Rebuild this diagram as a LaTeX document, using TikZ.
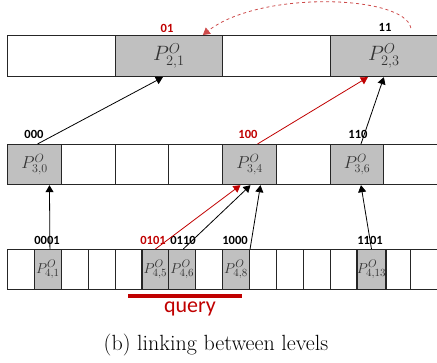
\documentclass[tikz,border=0pt]{standalone}
\usepackage{fontspec}
\newfontfamily\lblfont{Carlito}
\usepackage{tikz}
\usetikzlibrary{arrows.meta}
\usetikzlibrary{positioning}
\definecolor{cellgray}{RGB}{192,192,192}
\definecolor{darkred}{RGB}{192,0,0}
\definecolor{dashred}{RGB}{205,75,75}

\begin{document}
\begin{tikzpicture}[x=1pt,y=-1pt,>={Triangle[length=7pt,width=8pt]}]
\useasboundingbox (0,0) rectangle (437,362);
\tikzstyle{cell}=[draw=black!85,line width=1.2pt,anchor=north west,inner sep=0pt,text=black!80]
\tikzstyle{tcell}=[cell,minimum width=107.5pt,minimum height=41pt,font=\fontsize{22}{24}\selectfont]
\tikzstyle{mcell}=[cell,minimum width=53.75pt,minimum height=40pt,font=\fontsize{18.5}{20}\selectfont]
\tikzstyle{bcell}=[cell,minimum width=26.875pt,minimum height=40pt,font=\fontsize{15.5}{17}\selectfont]
\tikzstyle{bits}=[anchor=base,inner sep=0pt,font={\lblfont\bfseries\fontsize{12.5}{14}\selectfont}]
\tikzstyle{link}=[->,line width=0.8pt]

% level 2
\foreach \i in {0,...,3}
	\node[tcell] (t\i) at (7+107.5*\i,35) {};
\foreach \i in {1,3}
	\node[tcell,fill=cellgray] (p2\i) at (t\i.north west) {$P^{O}_{2,\i}$};
% level 3
\foreach \i in {0,...,7}
	\node[mcell] (m\i) at (7+53.75*\i,144) {};
\foreach \i in {0,4,6}
	\node[mcell,fill=cellgray] (p3\i) at (m\i.north west) {$P^{O}_{3,\i}$};
% level 4
\foreach \i in {0,...,15}
	\node[bcell] (b\i) at (7+26.875*\i,249) {};
\foreach \i in {1,5,6,8,13}
	\node[bcell,fill=cellgray] (p4\i) at (b\i.north west) {$P^{O}_{4,\i}$};

% prefixes
\node[bits,text=darkred] (l01) at (167,32) {01};
\node[bits] (l11) at (385,31.5) {11};
\node[bits] (l000) at (34,138.5) {000};
\node[bits,text=darkred] (l100) at (248,138.5) {100};
\node[bits] (l110) at (358,138.5) {110};
\node[bits] (l0001) at (47,244) {0001};
\node[bits,text=darkred] (l0101) at (153,244) {0101};
\node[bits] (l0110) at (183,244) {0110};
\node[bits] (l1000) at (235,244) {1000};
\node[bits] (l1101) at (370,244) {1101};

% links
\draw[link] ([xshift=3pt]p30.north) -- ([xshift=-6pt]p21.south);
\draw[link,darkred] ([xshift=8pt]p34.north) -- ([xshift=-16pt]p23.south);
\draw[link] ([xshift=4pt]p36.north) -- (p23.south);
\draw[link] ([xshift=2pt]p41.north) -- ([xshift=15pt]p30.south);
\draw[link,darkred] (p45.north) -- ([xshift=-9pt]p34.south);
\draw[link] ([xshift=1pt]p46.north) -- ([xshift=1pt]p34.south);
\draw[link] (p48.north east) -- ([xshift=11pt]p34.south);
\draw[link] (p413.north) -- ([xshift=4pt]p36.south);
\draw[link,dashred,dashed] ([xshift=27pt,yshift=7pt]p23.north) .. controls (405,-5) and (260,-10) .. ([xshift=34pt]p21.north);

% query range
\draw[darkred,line width=4pt] (128,296) -- (242,296);
\node[anchor=base,inner sep=0pt,text=darkred,font={\lblfont\fontsize{22}{24}\selectfont}] (query) at (190,312) {query};
\node[anchor=base,inner sep=0pt,font=\fontsize{22}{24}\selectfont] (caption) at (216,350) {(b) linking between levels};
\end{tikzpicture}
\end{document}
